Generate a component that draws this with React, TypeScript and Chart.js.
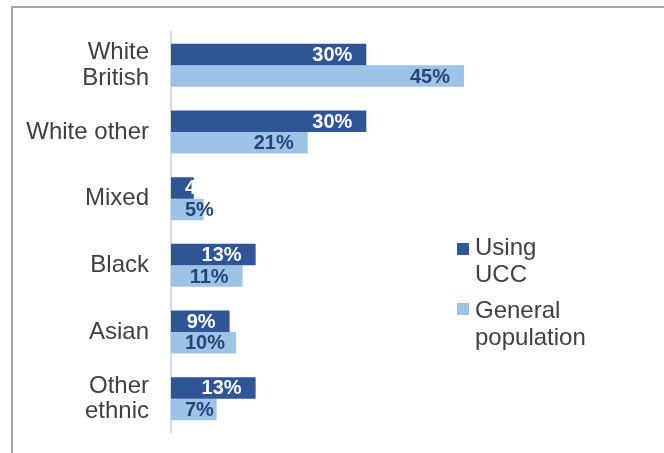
import React, { useEffect, useRef } from "react";
import { Chart, registerables } from "chart.js";

Chart.register(...registerables);

const categories: (string | string[])[] = [
  ["White", "British"],
  "White other",
  "Mixed",
  "Black",
  "Asian",
  ["Other", "ethnic"],
];
const usingUCC = [30, 30, 3.5, 13, 9, 13];
const generalPopulation = [45, 21, 5, 11, 10, 7];
const seriesNames = [["Using", "UCC"], ["General", "population"]];

const DARK = "#2f5597";
const LIGHT = "#9dc3e6";
const FONT = "'Liberation Sans', Arial, sans-serif";

const labelPlugin = {
  id: "barLabels",
  afterDatasetsDraw(chart: any) {
    const ctx = chart.ctx;
    ctx.save();
    ctx.font = `bold 20px ${FONT}`;
    ctx.textAlign = "left";
    ctx.textBaseline = "middle";
    chart.data.datasets.forEach((ds: any, di: number) => {
      const meta = chart.getDatasetMeta(di);
      meta.data.forEach((bar: any, i: number) => {
        const v = ds.data[i];
        const text = Math.round(v) + "%";
        const w = ctx.measureText(text).width;
        const left = Math.max(bar.x - 14 - w, bar.base + 14);
        ctx.fillStyle = di === 0 ? "#ffffff" : "#264478";
        ctx.fillText(text, left, bar.y + 1);
      });
    });
    ctx.restore();
  },
};

export default function App() {
  const canvasRef = useRef<HTMLCanvasElement | null>(null);

  useEffect(() => {
    if (!canvasRef.current) return;
    const chart = new Chart(canvasRef.current, {
      type: "bar",
      data: {
        labels: categories,
        datasets: [
          {
            label: "Using UCC",
            data: usingUCC,
            backgroundColor: DARK,
            categoryPercentage: 0.645,
            barPercentage: 1,
          },
          {
            label: "General population",
            data: generalPopulation,
            backgroundColor: LIGHT,
            categoryPercentage: 0.645,
            barPercentage: 1,
          },
        ],
      },
      options: {
        indexAxis: "y",
        animation: false,
        responsive: false,
        maintainAspectRatio: false,
        layout: { padding: { top: 32, bottom: 21, left: 0, right: 167.5 } },
        plugins: {
          legend: { display: false },
          tooltip: { enabled: false },
        },
        scales: {
          x: {
            min: 0,
            max: 50,
            display: false,
          },
          y: {
            grid: { display: false, drawTicks: false },
            border: { display: true, color: "#d9d9d9", width: 2 },
            ticks: {
              color: "#404040",
              padding: 22,
              font: { family: FONT, size: 24, lineHeight: 1.05 },
            },
            afterFit: (scale: any) => {
              scale.width = 171;
              scale.paddingTop = 0;
              scale.paddingBottom = 0;
            },
          },
        },
      },
      plugins: [labelPlugin],
    });
    return () => chart.destroy();
  }, []);

  const legendText: React.CSSProperties = {
    position: "absolute",
    left: 475,
    fontFamily: FONT,
    fontSize: 24,
    lineHeight: "27px",
    color: "#404040",
  };

  return (
    <div
      style={{
        position: "fixed",
        left: 0,
        top: 0,
        width: 664,
        height: 453,
        background: "#ffffff",
        overflow: "hidden",
      }}
    >
      <canvas ref={canvasRef} width={664} height={453} style={{ position: "absolute", left: 0, top: 0 }} />
      <div
        style={{
          position: "absolute",
          left: 11,
          top: 6,
          width: 700,
          height: 500,
          borderTop: "2px solid #a6a6a6",
          borderLeft: "2px solid #a6a6a6",
          pointerEvents: "none",
        }}
      />
      <div style={{ position: "absolute", left: 457, top: 243, width: 12, height: 12, background: DARK }} />
      <div style={{ ...legendText, top: 233 }}>
        {seriesNames[0][0]}
        <br />
        {seriesNames[0][1]}
      </div>
      <div style={{ position: "absolute", left: 457, top: 303, width: 12, height: 12, background: LIGHT }} />
      <div style={{ ...legendText, top: 296 }}>
        {seriesNames[1][0]}
        <br />
        {seriesNames[1][1]}
      </div>
    </div>
  );
}
